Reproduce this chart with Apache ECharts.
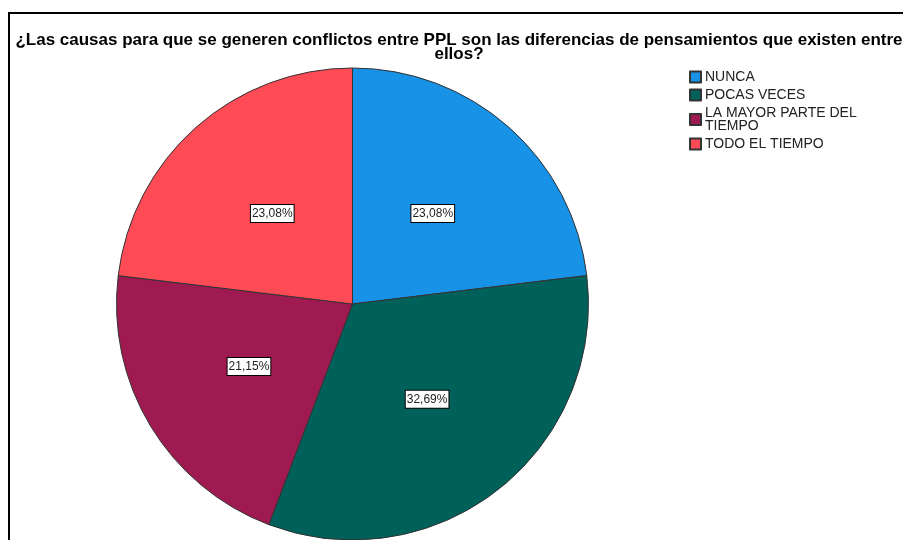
<!DOCTYPE html>
<html>
<head>
<meta charset="utf-8">
<script src="https://cdn.jsdelivr.net/npm/echarts@6/dist/echarts.min.js"></script>
<style>
  html, body { margin: 0; padding: 0; background: #fff; overflow: hidden; }
  #chart { width: 903px; height: 540px; }
</style>
</head>
<body>
<div id="chart"></div>
<script>
// datos (porcentajes)
const categories = ['NUNCA', 'POCAS VECES', 'LA MAYOR PARTE DEL TIEMPO', 'TODO EL TIEMPO'];
const percents = [23.08, 32.69, 21.15, 23.08];
const colors = ['#1792e6', '#00605a', '#9e1a50', '#fe4b56'];
const TITLE = '¿Las causas para que se generen conflictos entre PPL son las diferencias de pensamientos que existen entre\nellos?';

const FONT = 'Arial, "Liberation Sans", sans-serif';

const chart = echarts.init(document.getElementById('chart'), null, { renderer: 'canvas' });

chart.setOption({
  backgroundColor: '#fff',
  animation: false,
  color: colors,
  graphic: [
    {
      type: 'rect',
      shape: { x: 9, y: 13, width: 1200, height: 1200 },
      style: { fill: 'none', stroke: '#000', lineWidth: 2 },
      silent: true,
    },
    {
      type: 'text',
      x: 459, y: 33,
      style: {
        text: TITLE,
        textAlign: 'center',
        font: 'bold 17px ' + FONT,
        lineHeight: 14,
        fill: '#000',
      },
      silent: true,
    },
  ],
  legend: {
    orient: 'vertical',
    left: 689, top: 70,
    padding: 0,
    itemWidth: 11, itemHeight: 11, itemGap: 4,
    icon: 'rect',
    data: categories,
    formatter: (n) => n.replace('DEL ', 'DEL\n'),
    textStyle: { fontFamily: FONT, fontSize: 14, color: '#222', lineHeight: 13, padding: [0, 0, 0, -1] },
    selectedMode: false,
  },
  series: [{
    type: 'pie',
    center: [352.5, 304],
    radius: 236,
    startAngle: 90,
    clockwise: true,
    data: categories.map((name, i) => ({ name, value: percents[i] })),
    itemStyle: { borderColor: '#333', borderWidth: 1 },
    label: {
      position: 'inside',
      formatter: (p) => p.value.toFixed(2).replace('.', ',') + '%',
      fontFamily: FONT,
      fontSize: 12,
      color: '#222',
      backgroundColor: '#fff',
      borderColor: '#000',
      borderWidth: 1,
      padding: [3, 1, 2, 1],
    },
    labelLine: { show: false },
    emphasis: { disabled: true },
  }],
});
</script>
</body>
</html>
